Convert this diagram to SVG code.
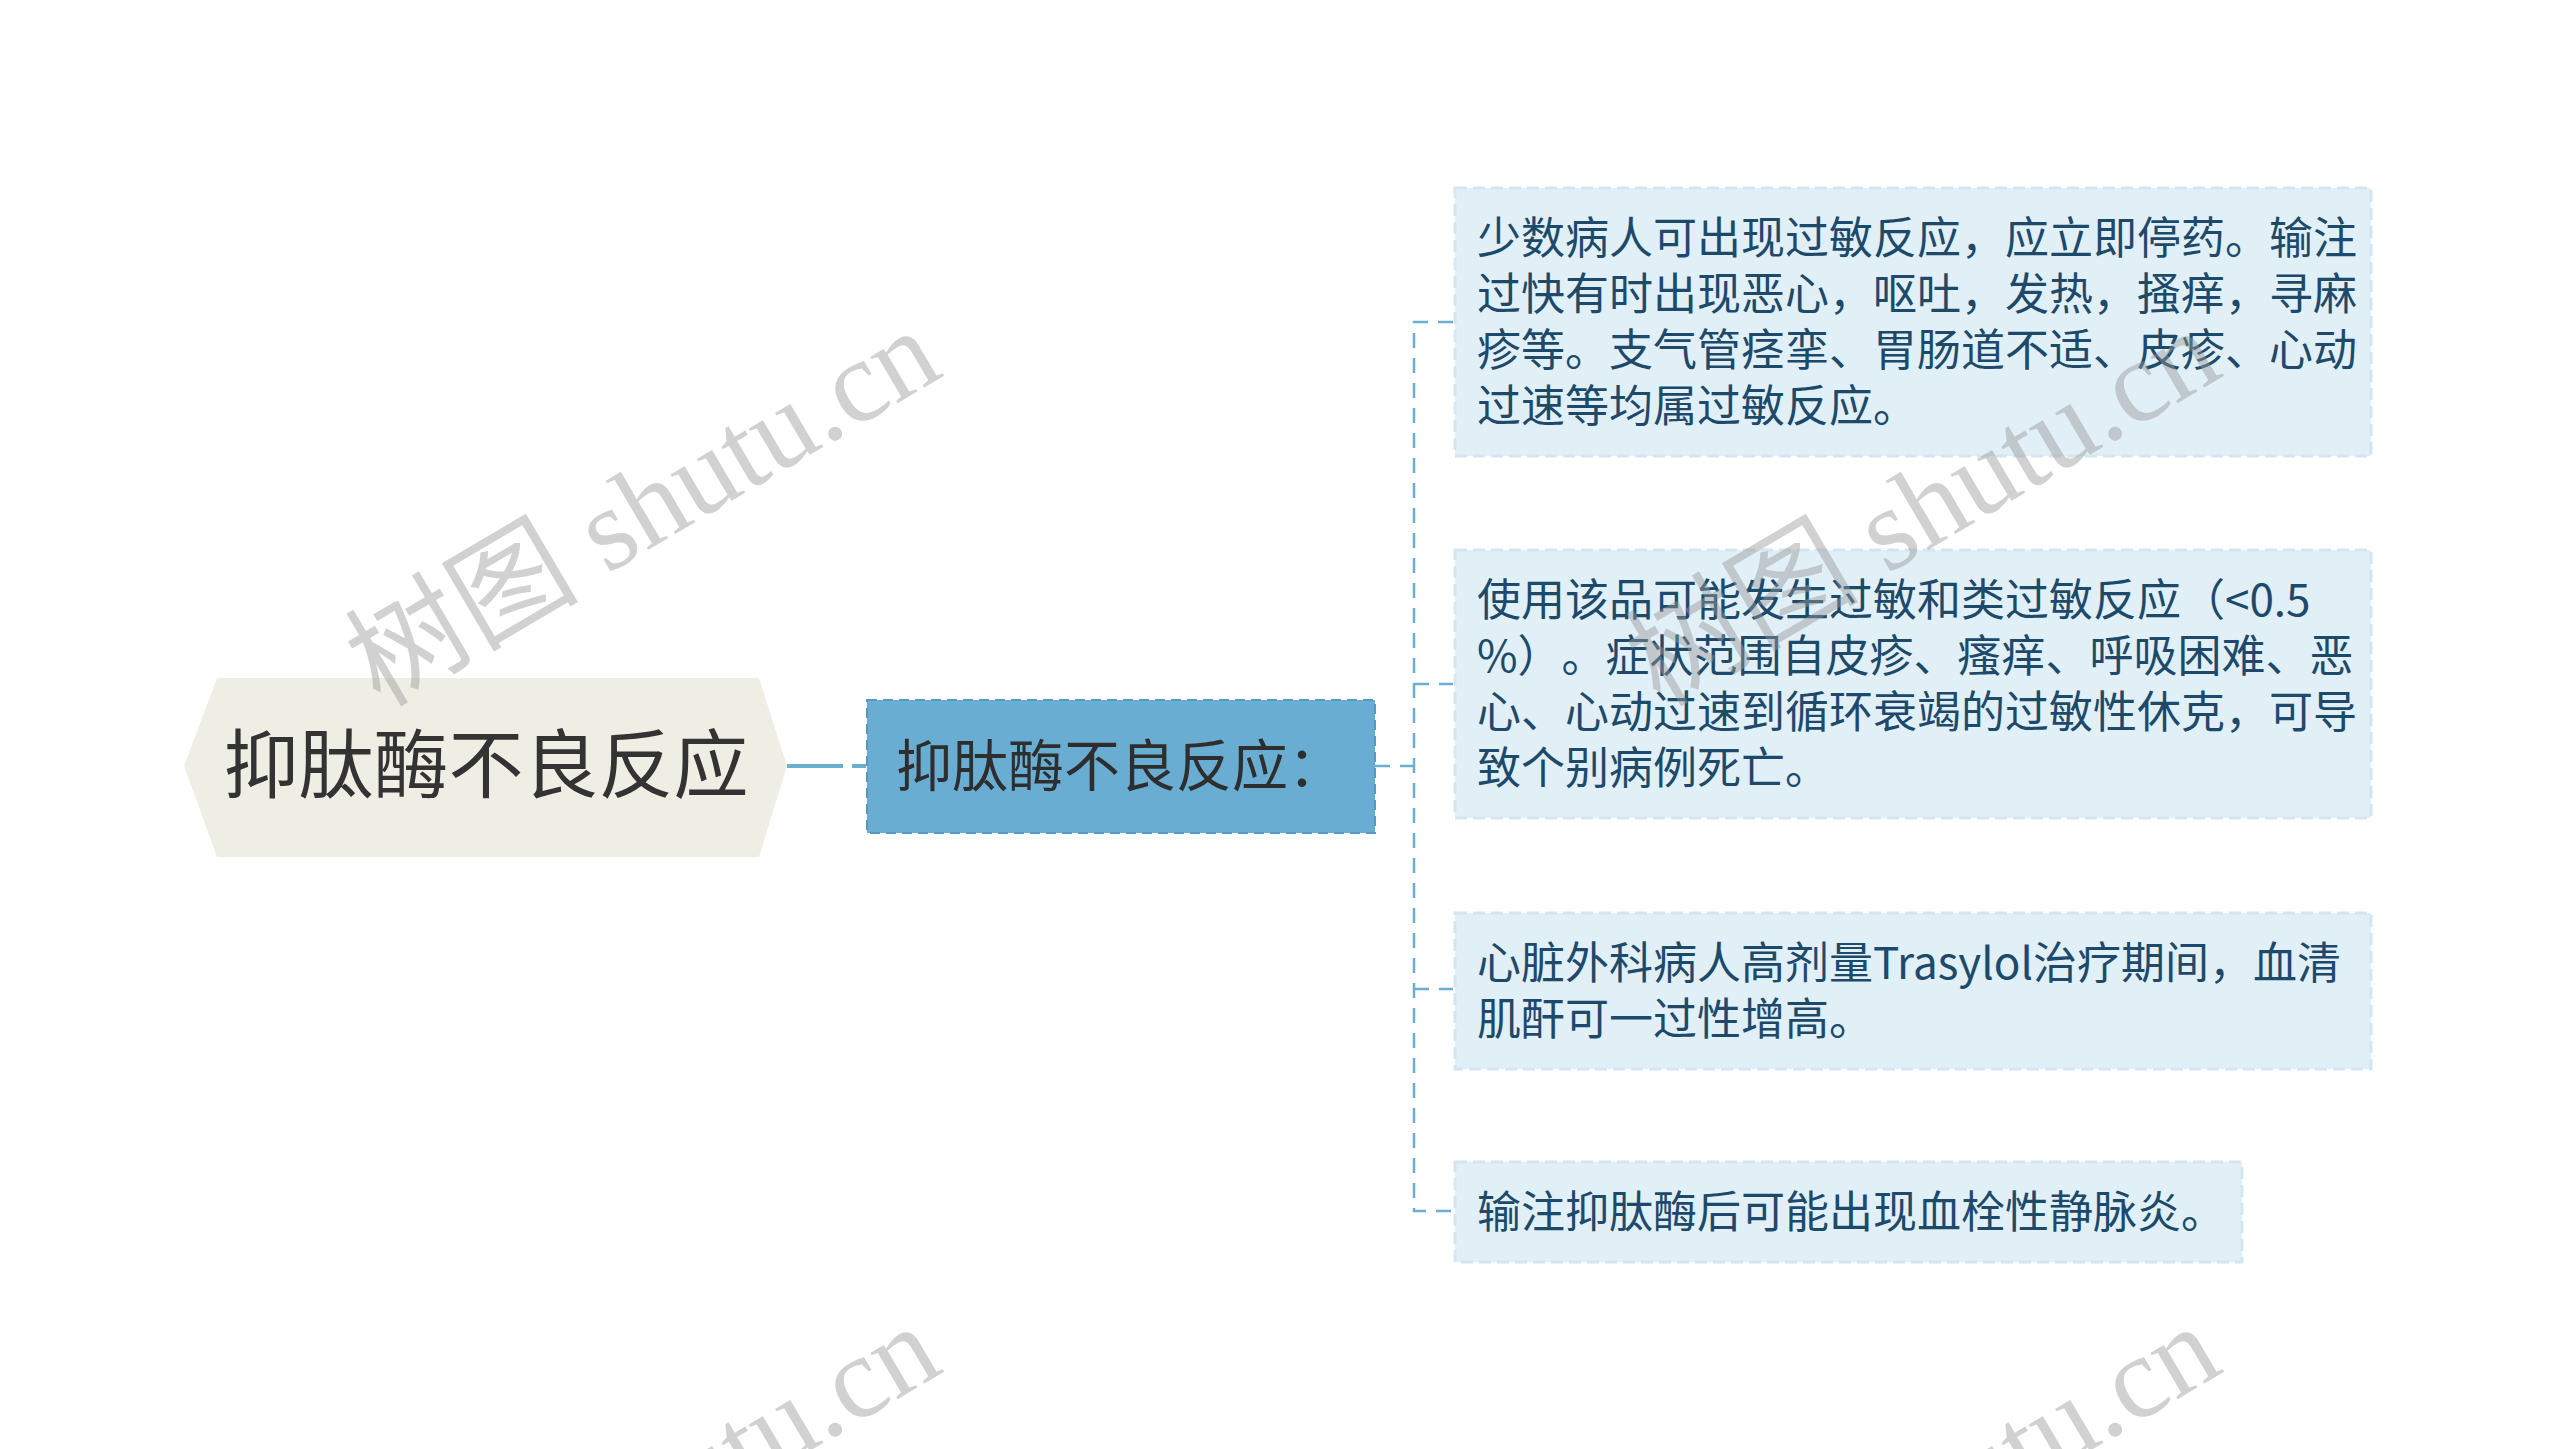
<svg xmlns="http://www.w3.org/2000/svg" width="2560" height="1449" viewBox="0 0 2560 1449">
<style>
.cjk{font-family:"Noto Sans CJK SC","Noto Sans",sans-serif;text-spacing-trim:space-all;}
.root-shape{fill:#efeee5;}
.root-text{font-size:75px;fill:#333333;}
.sub-shape{fill:#69aed2;stroke:#5699c4;stroke-width:2;stroke-dasharray:10 6;}
.sub-text{font-size:56px;fill:#2e2e2e;}
.leaf-shape{fill:#e1eff7;stroke:#d3e6f1;stroke-width:3;stroke-dasharray:12 6;}
.leaf-text{font-size:44px;fill:#1d4a6b;}
.conn{fill:none;stroke:#6aaed0;stroke-width:2.5;stroke-dasharray:15 10;}
.conn-main{fill:none;stroke:#6aaed0;stroke-width:4;stroke-dasharray:56 9 14 100;}
.wm{font-family:"Liberation Serif","Noto Sans CJK SC",serif;font-size:117px;fill:#999999;fill-opacity:0.45;}
</style>
<rect width="2560" height="1449" fill="#ffffff"/>
<g id="connectors">
<path class="conn-main" d="M787 766 H867"/>
<path class="conn" d="M1375 766 H1414"/>
<path class="conn" d="M1453 322 H1414 V1211 H1453"/>
<path class="conn" d="M1414 684 H1453"/>
<path class="conn" d="M1414 989 H1453"/>
</g>
<g id="root">
<polygon class="root-shape" points="184,766 217,678 759,678 787,766 759,857 217,857"/>
<text class="cjk root-text" x="486" y="792" text-anchor="middle">抑肽酶不良反应</text>
</g>
<g id="sub">
<rect class="sub-shape" x="867" y="700" width="508" height="133"/>
<text class="cjk sub-text" x="896" y="786">抑肽酶不良反应：</text>
</g>
<g id="leaf1">
<rect class="leaf-shape" x="1455" y="188" width="916" height="268"/>
<text class="cjk leaf-text"><tspan x="1477" y="254">少数病人可出现过敏反应，应立即停药。输注</tspan><tspan x="1477" y="310">过快有时出现恶心，呕吐，发热，搔痒，寻麻</tspan><tspan x="1477" y="366">疹等。支气管痉挛、胃肠道不适、皮疹、心动</tspan><tspan x="1477" y="422">过速等均属过敏反应。</tspan></text>
</g>
<g id="leaf2">
<rect class="leaf-shape" x="1455" y="550" width="916" height="268"/>
<text class="cjk leaf-text"><tspan x="1477" y="616">使用该品可能发生过敏和类过敏反应（&lt;0.5</tspan><tspan x="1477" y="672">%）。症状范围自皮疹、瘙痒、呼吸困难、恶</tspan><tspan x="1477" y="728">心、心动过速到循环衰竭的过敏性休克，可导</tspan><tspan x="1477" y="784">致个别病例死亡。</tspan></text>
</g>
<g id="leaf3">
<rect class="leaf-shape" x="1455" y="913" width="916" height="156"/>
<text class="cjk leaf-text"><tspan x="1477" y="979">心脏外科病人高剂量Trasylol治疗期间，血清</tspan><tspan x="1477" y="1035">肌酐可一过性增高。</tspan></text>
</g>
<g id="leaf4">
<rect class="leaf-shape" x="1455" y="1162" width="787" height="100"/>
<text class="cjk leaf-text" x="1477" y="1228">输注抑肽酶后可能出现血栓性静脉炎。</text>
</g>
<g id="watermarks">
<text class="wm" transform="translate(380 708) rotate(-30.5)">树图 shutu.cn</text>
<text class="wm" transform="translate(1660 708) rotate(-30.5)">树图 shutu.cn</text>
<text class="wm" transform="translate(380 1704) rotate(-30.5)">树图 shutu.cn</text>
<text class="wm" transform="translate(1660 1704) rotate(-30.5)">树图 shutu.cn</text>
</g>
</svg>
